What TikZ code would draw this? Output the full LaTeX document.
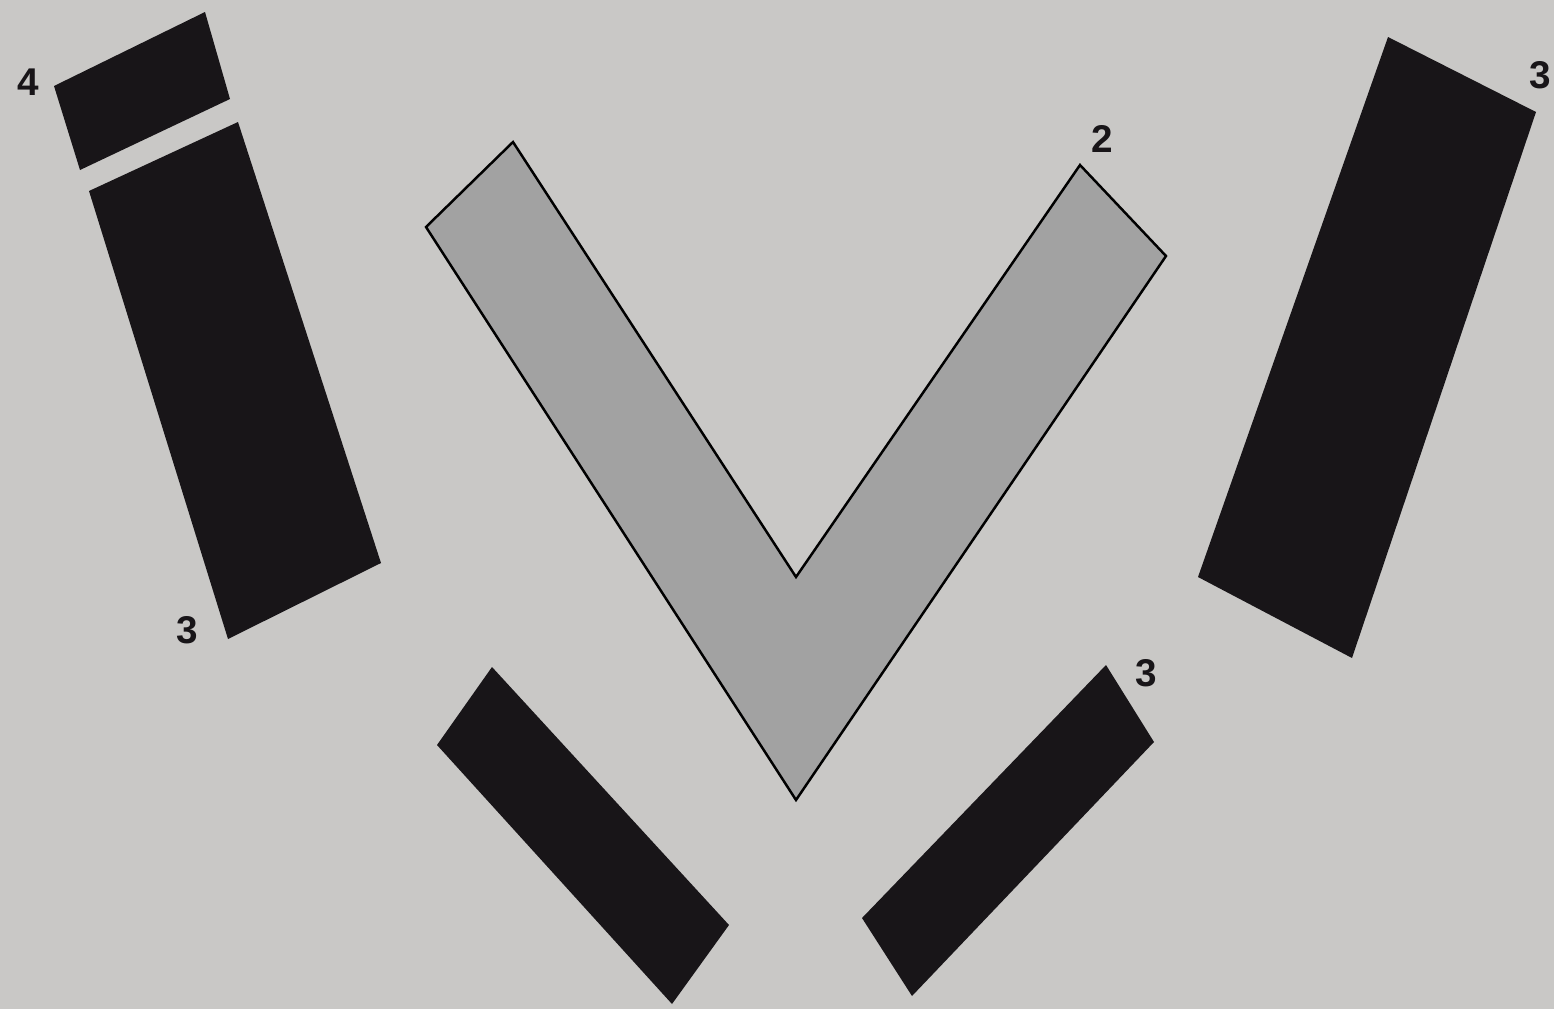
\documentclass[tikz,border=0pt]{standalone}
\usepackage{fontspec}
\setmainfont{Liberation Sans}
\usetikzlibrary{positioning}
\definecolor{paper}{RGB}{201,200,198}
\definecolor{ink}{RGB}{24,21,24}
\definecolor{vgray}{RGB}{162,162,162}

\begin{document}
\begin{tikzpicture}[x=0.01cm,y=-0.01cm,
  block/.style={fill=ink},
  lbl/.style={font=\fontsize{11}{13}\selectfont\bfseries,text=ink,inner sep=0pt}]
  % background / bounding box
  \fill[paper] (0,0) rectangle (1554,1009);
  \useasboundingbox (0,0) rectangle (1554,1009);

  % left pair of blocks
  \fill[block] (54,86) -- (205,12) -- (230,99) -- (80,170) -- cycle;
  \fill[block] (89,191) -- (238,122) -- (381,563) -- (228,639) -- cycle;

  % the V
  \draw[fill=vgray,line width=0.7pt,line join=miter]
    (426,227) -- (513,142) -- (796,577) -- (1080,165) -- (1166,256) -- (796,800) -- cycle;

  % right block
  \fill[block] (1388,37) -- (1536,112) -- (1352,658) -- (1198,577) -- cycle;

  % lower blocks
  \fill[block] (437,745) -- (492,667) -- (729,925) -- (672,1004) -- cycle;
  \fill[block] (862,918) -- (1106,665) -- (1154,742) -- (912,996) -- cycle;

  % labels
  \node[lbl] (l4) at (28,82) {4};
  \node[lbl] (l3a) at (187,630) {3};
  \node[lbl] (l2) at (1102,139) {2};
  \node[lbl] (l3b) at (1540,75) {3};
  \node[lbl] (l3c) at (1146,673) {3};
\end{tikzpicture}
\end{document}
